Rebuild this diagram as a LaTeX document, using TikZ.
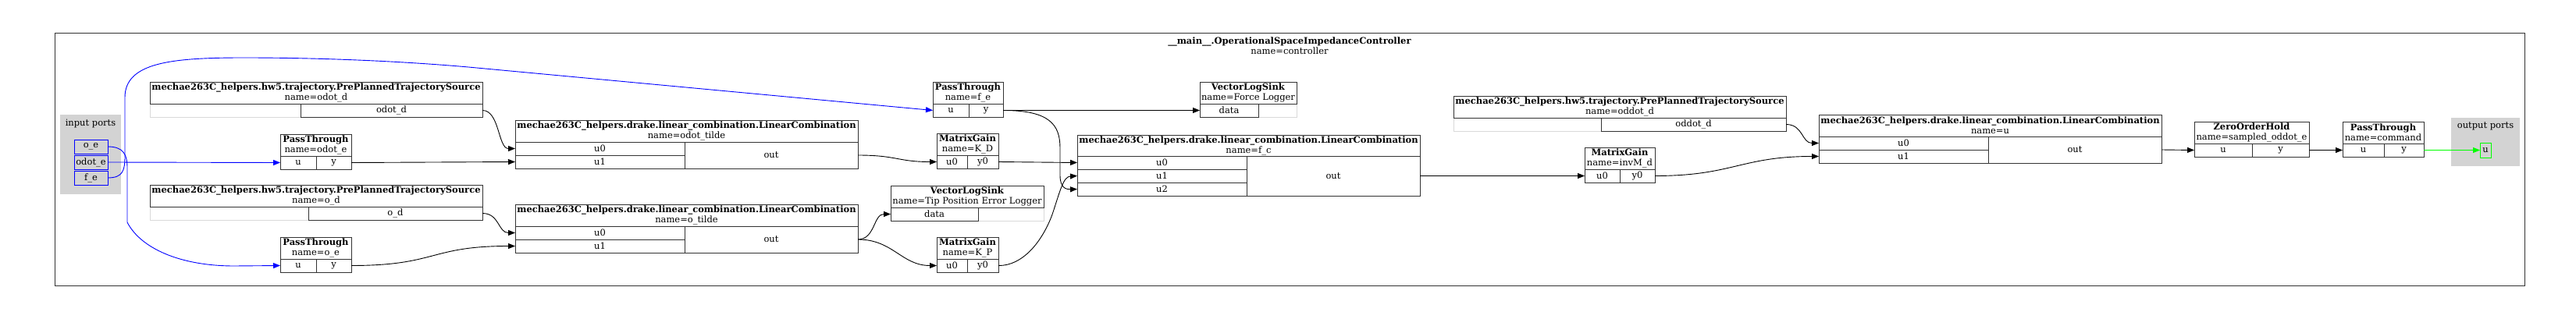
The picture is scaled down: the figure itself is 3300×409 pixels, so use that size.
\documentclass[tikz,border=0pt]{standalone}
\usepackage{fontspec}
\setmainfont{DejaVu Serif}
\usetikzlibrary{positioning,arrows.meta,backgrounds}
\definecolor{portgray}{RGB}{211,211,211}
\newcommand{\blkfont}{\fontsize{11.5}{13}\selectfont}

\begin{document}
\begin{tikzpicture}[x=1pt, y=-1pt,
  blk/.style={draw=black!80, line width=0.9pt, outer sep=0pt, inner xsep=1pt, inner ysep=0pt, font=\blkfont},
  hdr/.style={blk, anchor=north west, align=center, minimum height=28},
  cell/.style={blk, minimum height=17},
  nocell/.style={cell, draw=black!15},
  wire/.style={line width=0.9pt, -{Triangle[length=9pt, width=7pt]}},
  inwire/.style={wire, blue},
  outwire/.style={wire, green},
  port/.style={blk, fill=portgray, minimum height=18, inner xsep=0pt}]
  \useasboundingbox (0,0) rectangle (3300,409);
  \draw[black!80, line width=0.9pt] (70.5,42) rectangle (3234,366);
  \node[font=\blkfont, align=center] (title) at (1652,59) {\textbf{\_\_main\_\_.OperationalSpaceImpedanceController}\\name=controller};

  \fill[portgray] (77,147) rectangle (155,249);
  \node[font=\blkfont] (inlabel) at (116,158) {input ports};
  \node[port, draw=blue, anchor=north west, minimum width=43] (inoe) at (95,179) {o\_e};
  \node[port, draw=blue, minimum width=43, below=2pt of inoe] (inodote) {odot\_e};
  \node[port, draw=blue, minimum width=43, below=2pt of inodote] (infe) {f\_e};

  \fill[portgray] (3140,151) rectangle (3228,213);
  \node[font=\blkfont] (outlabel) at (3184,162) {output ports};
  \node[port, draw=green, anchor=north west, minimum width=14, minimum height=19] (outu) at (3177,183) {u};

  \node[hdr, minimum width=426] (srcodotd) at (192,105) {\textbf{mechae263C\_helpers.hw5.trajectory.PrePlannedTrajectorySource}\\name=odot\_d};
  \node[cell, minimum width=233, below left=0pt and 0pt of srcodotd.south east] (srcodotd-out) {odot\_d};

  \node[hdr, minimum width=91] (ptodote) at (359,172) {\textbf{PassThrough}\\name=odot\_e};
  \node[cell, minimum width=46, below right=0pt and 0pt of ptodote.south west] (ptodote-u) {u};
  \node[cell, minimum width=45, right=0pt of ptodote-u] (ptodote-y) {y};

  \node[hdr, minimum width=426] (srcod) at (192,237) {\textbf{mechae263C\_helpers.hw5.trajectory.PrePlannedTrajectorySource}\\name=o\_d};
  \node[cell, minimum width=223, below left=0pt and 0pt of srcod.south east] (srcod-out) {o\_d};

  \node[hdr, minimum width=91] (ptoe) at (359,304) {\textbf{PassThrough}\\name=o\_e};
  \node[cell, minimum width=46, below right=0pt and 0pt of ptoe.south west] (ptoe-u) {u};
  \node[cell, minimum width=45, right=0pt of ptoe-u] (ptoe-y) {y};

  \node[hdr, minimum width=439] (lcodot) at (660,154) {\textbf{mechae263C\_helpers.drake.linear\_combination.LinearCombination}\\name=odot\_tilde};
  \node[cell, minimum width=217, below right=0pt and 0pt of lcodot.south west] (lcodot-u0) {u0};
  \node[cell, minimum width=217, below=0pt of lcodot-u0] (lcodot-u1) {u1};
  \node[cell, minimum width=222, minimum height=34, below left=0pt and 0pt of lcodot.south east] (lcodot-out) {out};

  \node[hdr, minimum width=439] (lco) at (660,262) {\textbf{mechae263C\_helpers.drake.linear\_combination.LinearCombination}\\name=o\_tilde};
  \node[cell, minimum width=217, below right=0pt and 0pt of lco.south west] (lco-u0) {u0};
  \node[cell, minimum width=217, below=0pt of lco-u0] (lco-u1) {u1};
  \node[cell, minimum width=222, minimum height=34, below left=0pt and 0pt of lco.south east] (lco-out) {out};

  \node[hdr, minimum width=90] (ptfe) at (1195,105) {\textbf{PassThrough}\\name=f\_e};
  \node[cell, minimum width=46, below right=0pt and 0pt of ptfe.south west] (ptfe-u) {u};
  \node[cell, minimum width=44, right=0pt of ptfe-u] (ptfe-y) {y};

  \node[hdr, minimum width=79] (kd) at (1200,171) {\textbf{MatrixGain}\\name=K\_D};
  \node[cell, minimum width=39, below right=0pt and 0pt of kd.south west] (kd-u0) {u0};
  \node[cell, minimum width=40, right=0pt of kd-u0] (kd-y0) {y0};

  \node[hdr, minimum width=196] (tiplog) at (1141,238) {\textbf{VectorLogSink}\\name=Tip Position Error Logger};
  \node[cell, minimum width=112, below right=0pt and 0pt of tiplog.south west] (tiplog-data) {data};

  \node[hdr, minimum width=79] (kp) at (1200,304) {\textbf{MatrixGain}\\name=K\_P};
  \node[cell, minimum width=39, below right=0pt and 0pt of kp.south west] (kp-u0) {u0};
  \node[cell, minimum width=40, right=0pt of kp-u0] (kp-y0) {y0};

  \node[hdr, minimum width=124] (forcelog) at (1537,105) {\textbf{VectorLogSink}\\name=Force Logger};
  \node[cell, minimum width=75, below right=0pt and 0pt of forcelog.south west] (forcelog-data) {data};

  \node[hdr, minimum width=439, minimum height=27] (lcfc) at (1380,173) {\textbf{mechae263C\_helpers.drake.linear\_combination.LinearCombination}\\name=f\_c};
  \node[cell, minimum width=217, below right=0pt and 0pt of lcfc.south west] (lcfc-u0) {u0};
  \node[cell, minimum width=217, below=0pt of lcfc-u0] (lcfc-u1) {u1};
  \node[cell, minimum width=217, below=0pt of lcfc-u1] (lcfc-u2) {u2};
  \node[cell, minimum width=222, minimum height=51, below left=0pt and 0pt of lcfc.south east] (lcfc-out) {out};

  \node[hdr, minimum width=426] (srcoddot) at (1862,123) {\textbf{mechae263C\_helpers.hw5.trajectory.PrePlannedTrajectorySource}\\name=oddot\_d};
  \node[cell, minimum width=237, below left=0pt and 0pt of srcoddot.south east] (srcoddot-out) {oddot\_d};

  \node[hdr, minimum width=90] (invm) at (2030,189) {\textbf{MatrixGain}\\name=invM\_d};
  \node[cell, minimum width=45, below right=0pt and 0pt of invm.south west] (invm-u0) {u0};
  \node[cell, minimum width=45, right=0pt of invm-u0] (invm-y0) {y0};

  \node[hdr, minimum width=439] (lcu) at (2330,147) {\textbf{mechae263C\_helpers.drake.linear\_combination.LinearCombination}\\name=u};
  \node[cell, minimum width=217, below right=0pt and 0pt of lcu.south west] (lcu-u0) {u0};
  \node[cell, minimum width=217, below=0pt of lcu-u0] (lcu-u1) {u1};
  \node[cell, minimum width=222, minimum height=34, below left=0pt and 0pt of lcu.south east] (lcu-out) {out};

  \node[hdr, minimum width=147] (zoh) at (2811,156) {\textbf{ZeroOrderHold}\\name=sampled\_oddot\_e};
  \node[cell, minimum width=74, below right=0pt and 0pt of zoh.south west] (zoh-u) {u};
  \node[cell, minimum width=73, right=0pt of zoh-u] (zoh-y) {y};

  \node[hdr, minimum width=104] (ptcmd) at (3001,156) {\textbf{PassThrough}\\name=command};
  \node[cell, minimum width=53, below right=0pt and 0pt of ptcmd.south west] (ptcmd-u) {u};
  \node[cell, minimum width=51, right=0pt of ptcmd-u] (ptcmd-y) {y};

  \begin{scope}[on background layer]
    \node[nocell, minimum width=193, left=0pt of srcodotd-out] (srcodotd-e) {};
    \node[nocell, minimum width=203, left=0pt of srcod-out] (srcod-e) {};
    \node[nocell, minimum width=84, right=0pt of tiplog-data] (tiplog-e) {};
    \node[nocell, minimum width=49, right=0pt of forcelog-data] (forcelog-e) {};
    \node[nocell, minimum width=189, left=0pt of srcoddot-out] (srcoddot-e) {};
  \end{scope}

  \draw[inwire] (inodote.east) -- (ptodote-u.west);
  \draw[inwire] (inoe.east) .. controls (158,188) and (163,198) .. (163,215) -- (163,285) .. controls (180,318) and (230,341) .. (300,341) -- (ptoe-u.west);
  \draw[inwire] (infe.east) .. controls (158,228) and (160,218) .. (160,200) -- (160,125) .. controls (160,80) and (220,74) .. (312,74) .. controls (420,74) and (520,79) .. (600,86) -- (ptfe-u.west);

  \draw[wire] (srcodotd-out.east) .. controls +(22,0) and +(-22,0) .. (lcodot-u0.west);
  \draw[wire] (ptodote-y.east) -- (lcodot-u1.west);
  \draw[wire] (srcod-out.east) .. controls +(22,0) and +(-22,0) .. (lco-u0.west);
  \draw[wire] (ptoe-y.east) .. controls +(110,0) and +(-110,0) .. (lco-u1.west);
  \draw[wire] (lcodot-out.east) .. controls +(50,0) and +(-50,0) .. (kd-u0.west);
  \draw[wire] (lco-out.east) .. controls +(22,0) and +(-22,0) .. (tiplog-data.west);
  \draw[wire] (lco-out.east) .. controls +(45,0) and +(-45,0) .. (kp-u0.west);
  \draw[wire] (ptfe-y.east) -- (forcelog-data.west);
  \draw[wire] (ptfe-y.east) .. controls (1345,141.5) and (1358,160) .. (1358,190) -- (1358,225) .. controls (1358,240) and (1365,243) .. (lcfc-u2.west);
  \draw[wire] (kd-y0.east) -- (lcfc-u0.west);
  \draw[wire] (kp-y0.east) .. controls (1310,341) and (1335,310) .. (1348,275) .. controls (1358,245) and (1362,226.5) .. (lcfc-u1.west);
  \draw[wire] (lcfc-out.east) -- (invm-u0.west);
  \draw[wire] (srcoddot-out.east) .. controls +(22,0) and +(-22,0) .. (lcu-u0.west);
  \draw[wire] (invm-y0.east) .. controls +(100,0) and +(-100,0) .. (lcu-u1.west);
  \draw[wire] (lcu-out.east) -- (zoh-u.west);
  \draw[wire] (zoh-y.east) -- (ptcmd-u.west);
  \draw[outwire] (ptcmd-y.east) -- (outu.west);
\end{tikzpicture}
\end{document}
